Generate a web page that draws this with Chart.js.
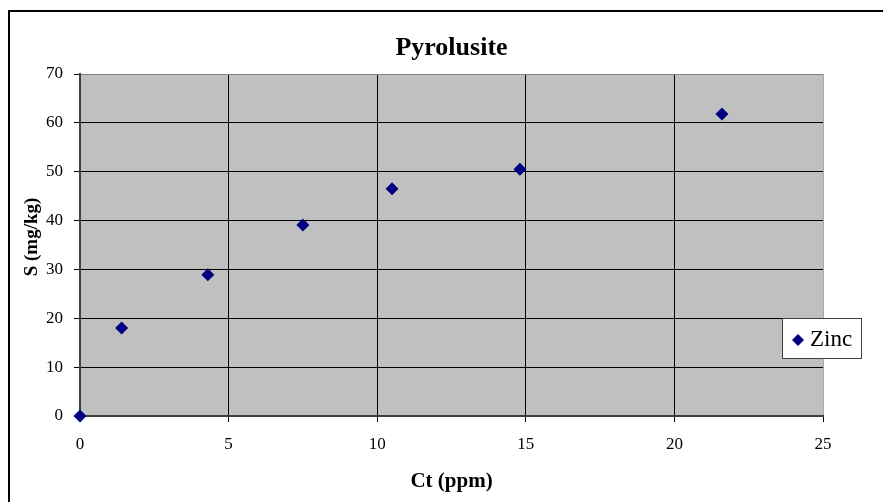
<!DOCTYPE html>
<html>
<head>
<meta charset="utf-8">
<script src="https://cdn.jsdelivr.net/npm/chart.js@4/dist/chart.umd.min.js"></script>
<style>
  html, body { margin: 0; padding: 0; background: #ffffff; }
  #wrap { width: 885px; height: 502px; }
</style>
</head>
<body>
<div id="wrap"><canvas id="c" width="885" height="502"></canvas></div>
<script>
// ---- data ----
const chartTitle = "Pyrolusite";
const seriesName = "Zinc";
const ctValues = [0, 1.4, 4.3, 7.5, 10.5, 14.8, 21.6];
const sValues  = [0, 18.0, 28.9, 39.1, 46.5, 50.5, 61.8];
const xAxisTitle = "Ct (ppm)";
const yAxisTitle = "S (mg/kg)";
const xMin = 0, xMax = 25, xStep = 5;
const yMin = 0, yMax = 70, yStep = 10;

const points = ctValues.map((x, i) => ({ x: x, y: sValues[i] }));
const serif = "'Liberation Serif', 'Times New Roman', serif";
const markerColor = "#000080";

const decor = {
  id: 'decor',
  beforeDraw(chart) {
    const ctx = chart.ctx, a = chart.chartArea;
    ctx.save();
    ctx.fillStyle = '#ffffff';
    ctx.fillRect(0, 0, chart.width, chart.height);
    ctx.fillStyle = '#c0c0c0';
    ctx.fillRect(a.left, a.top, a.right - a.left, a.bottom - a.top);
    // outer frame (top & left visible)
    ctx.strokeStyle = '#000000';
    ctx.lineWidth = 2;
    ctx.beginPath();
    ctx.moveTo(883, 11);
    ctx.lineTo(9, 11);
    ctx.lineTo(9, chart.height);
    ctx.stroke();
    // chart title, centred over plot area
    ctx.fillStyle = '#000000';
    ctx.textAlign = 'center';
    ctx.textBaseline = 'alphabetic';
    ctx.font = "bold 26px " + serif;
    ctx.fillText(chartTitle, (a.left + a.right) / 2, 55);
    // y axis title
    ctx.save();
    ctx.translate(32, 237);
    ctx.rotate(-Math.PI / 2);
    ctx.font = "bold 19px " + serif;
    ctx.textBaseline = 'middle';
    ctx.fillText(yAxisTitle, 0, 0);
    ctx.restore();
    ctx.restore();
  },
  afterDatasetsDraw(chart) {
    const ctx = chart.ctx;
    ctx.save();
    // legend box
    const lx = 782, ly = 318, lw = 79, lh = 40;
    ctx.fillStyle = '#ffffff';
    ctx.fillRect(lx, ly, lw, lh);
    ctx.strokeStyle = '#404040';
    ctx.lineWidth = 1;
    ctx.strokeRect(lx + 0.5, ly + 0.5, lw, lh);
    // marker
    const mx = lx + 16, my = ly + 22;
    ctx.fillStyle = markerColor;
    ctx.beginPath();
    ctx.moveTo(mx, my - 6);
    ctx.lineTo(mx + 6, my);
    ctx.lineTo(mx, my + 6);
    ctx.lineTo(mx - 6, my);
    ctx.closePath();
    ctx.fill();
    ctx.fillStyle = '#000000';
    ctx.font = "23px " + serif;
    ctx.textBaseline = 'middle';
    ctx.textAlign = 'left';
    ctx.fillText(seriesName, lx + 28, my);
    ctx.restore();
  }
};

new Chart(document.getElementById('c'), {
  type: 'scatter',
  data: {
    datasets: [{
      label: seriesName,
      data: points,
      pointStyle: 'rectRot',
      pointRadius: 6.5,
      pointHoverRadius: 6.5,
      backgroundColor: markerColor,
      borderColor: markerColor,
      borderWidth: 0,
      showLine: false,
      clip: false
    }]
  },
  options: {
    responsive: false,
    animation: false,
    events: [],
    layout: { padding: { left: 0, right: 62, top: 74, bottom: 0 } },
    plugins: {
      legend: { display: false },
      tooltip: { enabled: false },
      title: { display: false }
    },
    scales: {
      x: {
        type: 'linear',
        min: xMin, max: xMax,
        afterFit(s) { s.height = 86; },
        ticks: {
          stepSize: xStep,
          color: '#000000',
          padding: 12,
          maxRotation: 0,
          font: { family: serif, size: 17 }
        },
        grid: {
          color: (c) => c.tick && c.tick.value === xMax ? '#a8a8a8' : '#000000',
          tickColor: '#000000',
          lineWidth: 1,
          tickLength: 6
        },
        border: { color: '#404040', width: 2 },
        title: {
          display: true,
          text: xAxisTitle,
          color: '#000000',
          font: { family: serif, size: 21, weight: 'bold' },
          padding: { top: 0, bottom: 8 }
        }
      },
      y: {
        type: 'linear',
        min: yMin, max: yMax,
        afterFit(s) { s.width = 80; },
        ticks: {
          stepSize: yStep,
          color: '#000000',
          padding: 11,
          font: { family: serif, size: 17 }
        },
        grid: {
          color: (c) => c.tick && c.tick.value === yMax ? '#808080' : '#000000',
          tickColor: '#000000',
          lineWidth: 1,
          tickLength: 6
        },
        border: { color: '#404040', width: 2 },
        title: { display: false }
      }
    }
  },
  plugins: [decor]
});
</script>
</body>
</html>
